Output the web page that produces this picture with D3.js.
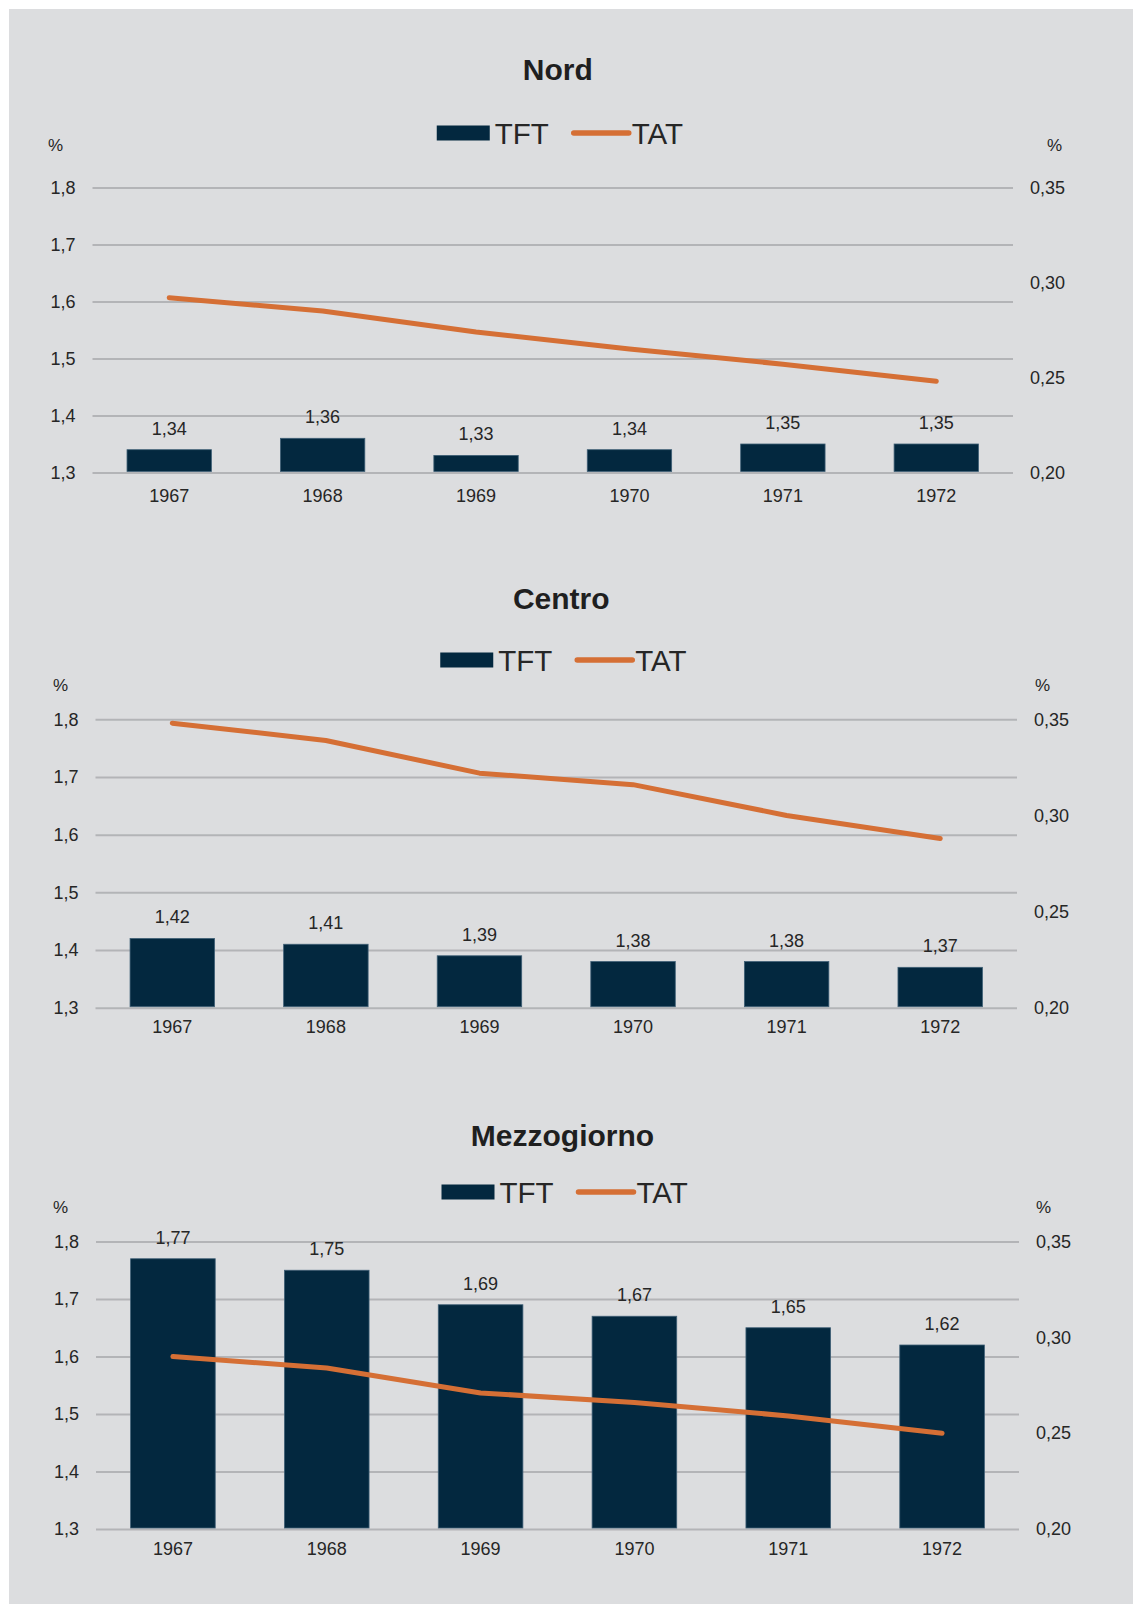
<!DOCTYPE html>
<html>
<head>
<meta charset="utf-8">
<script src="https://cdn.jsdelivr.net/npm/d3@7"></script>
<style>
  html, body { margin: 0; padding: 0; background: #ffffff; }
  svg { display: block; font-family: "Liberation Sans", Arial, Helvetica, sans-serif; }
</style>
</head>
<body>
<svg id="chart" width="1133" height="1604"></svg>
<script>
// Fertility (TFT, left axis, bars) and abortion rate (TAT, right axis, line) by area, 1967-1972
const years = ["1967", "1968", "1969", "1970", "1971", "1972"];
const areas = ["Nord", "Centro", "Mezzogiorno"];

const tftNord = [1.34, 1.36, 1.33, 1.34, 1.35, 1.35];
const tftCentro = [1.42, 1.41, 1.39, 1.38, 1.38, 1.37];
const tftMezzogiorno = [1.77, 1.75, 1.69, 1.67, 1.65, 1.62];

const tatNord = [0.292, 0.285, 0.274, 0.265, 0.257, 0.248];
const tatCentro = [0.348, 0.339, 0.322, 0.316, 0.300, 0.288];
const tatMezzogiorno = [0.290, 0.284, 0.271, 0.266, 0.259, 0.250];

const leftTicks = [1.3, 1.4, 1.5, 1.6, 1.7, 1.8];
const rightTicks = [0.20, 0.25, 0.30, 0.35];
const legendLabels = ["TFT", "TAT"];
const unitLabel = "%";

const tftSeries = [tftNord, tftCentro, tftMezzogiorno];
const tatSeries = [tatNord, tatCentro, tatMezzogiorno];

// Panel geometry
const panels = [
  { titleY: 69,   legendY: 133, pctY: 145,  top: 187.5,  bottom: 472.5,  left: 92.5, right: 1013, pctL: 48, pctR: 1047, yearDy: 29 },
  { titleY: 598,  legendY: 660, pctY: 685,  top: 719.3,  bottom: 1007.7, left: 95.5, right: 1017, pctL: 53, pctR: 1035, yearDy: 25.5 },
  { titleY: 1135, legendY: 1192, pctY: 1207, top: 1241.5, bottom: 1529,  left: 96,   right: 1019, pctL: 53, pctR: 1036, yearDy: 25.5 }
];

const COL_BG = "#dcdddf";
const COL_BAR = "#03283f";
const COL_LINE = "#d56f35";
const COL_GRID = "#b3b4b7";
const COL_TEXT = "#262626";

const it = d3.formatLocale({ decimal: ",", thousands: ".", grouping: [3], currency: ["", "€"] });
const fmt1 = it.format(".1f");
const fmt2 = it.format(".2f");

const svg = d3.select("#chart");
svg.append("rect").attr("x", 9).attr("y", 9).attr("width", 1133 - 9).attr("height", 1604 - 9).attr("fill", COL_BG);

areas.forEach((area, i) => {
  const p = panels[i];
  const tft = tftSeries[i];
  const tat = tatSeries[i];
  const g = svg.append("g");

  const x = d3.scaleBand().domain(years).range([p.left, p.right]).paddingInner(0.45).paddingOuter(0.225);
  const yL = d3.scaleLinear().domain([1.3, 1.8]).range([p.bottom, p.top]);
  const yR = d3.scaleLinear().domain([0.20, 0.35]).range([p.bottom, p.top]);
  const midX = (p.left + p.right) / 2;

  // Title
  g.append("text")
    .attr("x", midX + 5).attr("y", p.titleY).attr("dy", "0.35em")
    .attr("text-anchor", "middle").attr("font-size", 30).attr("font-weight", "bold")
    .attr("fill", "#1f1f1f").text(area);

  // Legend
  const lg = g.append("g");
  const lx0 = midX - 116;
  lg.append("rect").attr("x", lx0).attr("y", p.legendY - 7.5).attr("width", 53).attr("height", 15).attr("fill", COL_BAR);
  lg.append("text").attr("x", lx0 + 58).attr("y", p.legendY).attr("dy", "0.36em")
    .attr("font-size", 29.5).attr("fill", COL_TEXT).text(legendLabels[0]);
  lg.append("line").attr("x1", lx0 + 137).attr("x2", lx0 + 192)
    .attr("y1", p.legendY).attr("y2", p.legendY)
    .attr("stroke", COL_LINE).attr("stroke-width", 5.5).attr("stroke-linecap", "round");
  lg.append("text").attr("x", lx0 + 195).attr("y", p.legendY).attr("dy", "0.36em")
    .attr("font-size", 29.5).attr("fill", COL_TEXT).text(legendLabels[1]);

  // Unit labels
  g.append("text").attr("x", p.pctL).attr("y", p.pctY).attr("dy", "0.35em")
    .attr("font-size", 17).attr("fill", COL_TEXT).text(unitLabel);
  g.append("text").attr("x", p.pctR).attr("y", p.pctY).attr("dy", "0.35em")
    .attr("font-size", 17).attr("fill", COL_TEXT).text(unitLabel);

  // Left axis with gridlines
  const axL = g.append("g").attr("transform", `translate(${p.left},0)`)
    .call(d3.axisLeft(yL).tickValues(leftTicks).tickFormat(fmt1)
      .tickSizeInner(-(p.right - p.left)).tickSizeOuter(0).tickPadding(17));
  axL.select(".domain").remove();
  axL.selectAll(".tick line").attr("stroke", COL_GRID).attr("stroke-width", 2);
  axL.selectAll(".tick text").attr("font-size", 18).attr("fill", COL_TEXT).attr("font-family", null);

  // Right axis labels
  const axR = g.append("g").attr("transform", `translate(${p.right},0)`)
    .call(d3.axisRight(yR).tickValues(rightTicks).tickFormat(fmt2).tickSize(0).tickPadding(17));
  axR.select(".domain").remove();
  axR.selectAll(".tick text").attr("font-size", 18).attr("fill", COL_TEXT).attr("font-family", null);

  // Bars
  g.append("g").selectAll("rect").data(tft).join("rect")
    .attr("x", (d, j) => x(years[j]))
    .attr("width", x.bandwidth())
    .attr("y", d => yL(d))
    .attr("height", d => yL(1.3) - yL(d) - 1)
    .attr("fill", COL_BAR)
    .attr("stroke", "#3f5f76").attr("stroke-width", 0.8);

  // Bar value labels
  g.append("g").selectAll("text").data(tft).join("text")
    .attr("x", (d, j) => x(years[j]) + x.bandwidth() / 2)
    .attr("y", d => yL(d) - 15)
    .attr("text-anchor", "middle").attr("font-size", 18).attr("fill", COL_TEXT)
    .text(d => fmt2(d));

  // Year labels
  g.append("g").selectAll("text").data(years).join("text")
    .attr("x", d => x(d) + x.bandwidth() / 2)
    .attr("y", yL(1.3) + p.yearDy)
    .attr("text-anchor", "middle").attr("font-size", 18).attr("fill", COL_TEXT)
    .text(d => d);

  // TAT line
  const line = d3.line()
    .x((d, j) => x(years[j]) + x.bandwidth() / 2)
    .y(d => yR(d));
  g.append("path").datum(tat)
    .attr("d", line)
    .attr("fill", "none").attr("stroke", COL_LINE).attr("stroke-width", 5)
    .attr("stroke-linecap", "round").attr("stroke-linejoin", "round");
});
</script>
</body>
</html>
